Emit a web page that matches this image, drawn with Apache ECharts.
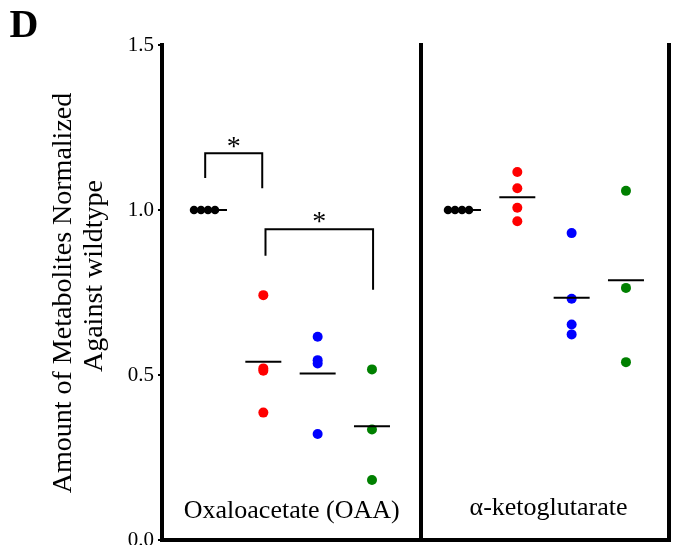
<!DOCTYPE html>
<html><head><meta charset="utf-8">
<script src="https://cdn.jsdelivr.net/npm/echarts@6/dist/echarts.min.js"></script>
<style>html,body{margin:0;padding:0;background:#fff}#c{width:677px;height:545px}</style>
</head><body><div id="c"></div>
<script>
// ---- data ----
const metabolites = ['Oxaloacetate (OAA)', 'α-ketoglutarate'];
const groupColors = ['#000000', '#ff0000', '#0000ff', '#008000'];
const oaaValues = [
  [1.0, 1.0, 1.0, 1.0],
  [0.742, 0.520, 0.513, 0.386],
  [0.616, 0.545, 0.535, 0.321],
  [0.517, 0.335, 0.182]
];
const akgValues = [
  [1.0, 1.0, 1.0, 1.0],
  [1.115, 1.066, 1.007, 0.966],
  [0.930, 0.731, 0.653, 0.623],
  [1.058, 0.764, 0.539]
];
const yTickLabels = ['0.0', '0.5', '1.0', '1.5'];
const yTitleLines = ['Amount of Metabolites Normalized', 'Against wildtype'];
const panelLetter = 'D';
// significance brackets (OAA panel): group positions and bracket heights
const sigBrackets = [
  {from: 0.93, to: 1.98, top: 1.172, fromEnd: 1.097, toEnd: 1.066, label: '*'},
  {from: 2.04, to: 4.02, top: 0.942, fromEnd: 0.861, toEnd: 0.758, label: '*'}
];

// ---- layout ----
const SERIF = '"Liberation Serif", "Times New Roman", serif';
const unitPx = 54.33;
const tieStartPx = -15, tieStepPx = 7;
const panelValues = [oaaValues, akgValues];

function jittered(vals) {
  return vals.map((v, i) => {
    const same = vals.filter(w => w === v).length;
    let off = 0;
    if (same > 1) {
      const k = vals.slice(0, i).filter(w => w === v).length;
      off = (tieStartPx + k * tieStepPx) / unitPx;
    }
    return off;
  });
}
const mean = a => a.reduce((s, v) => s + v, 0) / a.length;

const series = [];
panelValues.forEach((groups, p) => {
  groups.forEach((vals, g) => {
    const offs = jittered(vals);
    series.push({
      type: 'scatter', xAxisIndex: p, yAxisIndex: p,
      symbol: 'circle', symbolSize: g === 0 ? 8.5 : 10,
      itemStyle: {color: groupColors[g], opacity: 1}, z: 3, silent: true,
      data: vals.map((v, i) => [g + 1 + offs[i], v])
    });
  });
  series.push({
    type: 'scatter', xAxisIndex: p, yAxisIndex: p,
    symbol: 'rect', symbolSize: [36, 2], z: 5, silent: true,
    itemStyle: {color: '#000', opacity: 1},
    data: groups.map((vals, g) => [g + 1, mean(vals)])
  });
});

series.push({
  type: 'custom', xAxisIndex: 0, yAxisIndex: 0, z: 6, silent: true,
  data: sigBrackets.map(b => [b.from, b.top, b.to, b.fromEnd, b.toEnd]),
  encode: {x: [0, 2], y: [1, 3, 4]},
  renderItem: (params, api) => {
    const a = api.coord([api.value(0), api.value(3)]);
    const t1 = api.coord([api.value(0), api.value(1)]);
    const t2 = api.coord([api.value(2), api.value(1)]);
    const b = api.coord([api.value(2), api.value(4)]);
    return {
      type: 'group',
      children: [
        {type: 'polyline', shape: {points: [a, t1, t2, b]},
         style: {stroke: '#000', lineWidth: 2, fill: null}},
        {type: 'text', x: (t1[0] + t2[0]) / 2, y: t1[1] - 6,
         style: {text: sigBrackets[params.dataIndex].label, font: '28px ' + SERIF,
                 fill: '#000', align: 'center', verticalAlign: 'middle'}}
      ]
    };
  }
});

const axisLine = {show: true, lineStyle: {color: '#000', width: 4, cap: 'square'}};
const option = {
  animation: false,
  backgroundColor: '#fff',
  grid: [
    {left: 162, top: 45, width: 258.5, height: 495, containLabel: false, outerBoundsMode: 'none'},
    {left: 420.5, top: 45, width: 248.5, height: 495, containLabel: false, outerBoundsMode: 'none'}
  ],
  xAxis: [
    {gridIndex: 0, type: 'value', min: 0.135, max: 4.893, axisLine,
     axisTick: {show: false}, axisLabel: {show: false}, splitLine: {show: false}},
    {gridIndex: 1, type: 'value', min: 0.218, max: 4.792, axisLine,
     axisTick: {show: false}, axisLabel: {show: false}, splitLine: {show: false}}
  ],
  yAxis: [
    {gridIndex: 0, type: 'value', min: 0, max: 1.5, interval: 0.5, axisLine,
     axisTick: {show: true, length: 4, lineStyle: {color: '#000', width: 2}},
     axisLabel: {margin: 8, color: '#000', fontSize: 21, fontFamily: SERIF,
       formatter: v => yTickLabels[Math.round(v / 0.5)]},
     splitLine: {show: false}},
    {gridIndex: 1, type: 'value', min: 0, max: 1.5, interval: 0.5, axisLine,
     axisTick: {show: false}, axisLabel: {show: false}, splitLine: {show: false}},
    {gridIndex: 1, type: 'value', position: 'right', min: 0, max: 1.5, interval: 0.5, axisLine,
     axisTick: {show: false}, axisLabel: {show: false}, splitLine: {show: false}}
  ],
  graphic: [
    {type: 'text', x: 24, y: 27, style: {text: panelLetter, font: 'bold 40px ' + SERIF,
      fill: '#000', align: 'center', verticalAlign: 'middle'}},
    {type: 'text', x: 291.7, y: 511, style: {text: metabolites[0], font: '26px ' + SERIF,
      fill: '#000', align: 'center', verticalAlign: 'middle'}},
    {type: 'text', x: 548.5, y: 508, style: {text: metabolites[1], font: '26px ' + SERIF,
      fill: '#000', align: 'center', verticalAlign: 'middle'}},
    {type: 'text', x: 63.5, y: 293, rotation: Math.PI / 2, style: {text: yTitleLines[0],
      font: '28px ' + SERIF, fill: '#000', align: 'center', verticalAlign: 'middle'}},
    {type: 'text', x: 94.5, y: 276, rotation: Math.PI / 2, style: {text: yTitleLines[1],
      font: '28px ' + SERIF, fill: '#000', align: 'center', verticalAlign: 'middle'}}
  ],
  series
};
echarts.init(document.getElementById('c'), null, {renderer: 'canvas'}).setOption(option);
</script></body></html>
